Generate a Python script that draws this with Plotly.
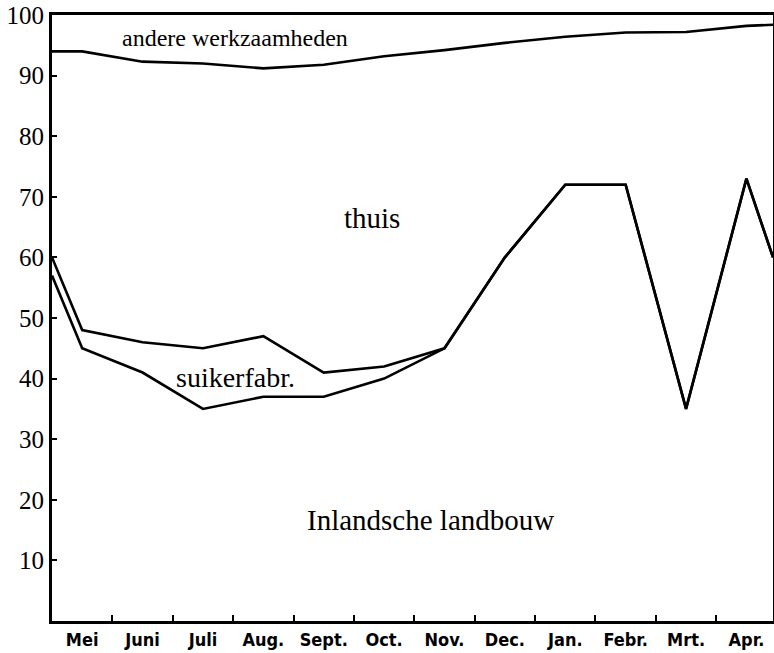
import plotly.graph_objects as go

months = ["Mei", "Juni", "Juli", "Aug.", "Sept.", "Oct.", "Nov.", "Dec.",
          "Jan.", "Febr.", "Mrt.", "Apr."]
# x: start of year (0), month centres (i+0.5), right edge
x_start = 0.0
x_end = 11.94
landbouw = [57, 45, 41, 35, 37, 37, 40, 45, 60, 72, 72, 35, 73, 60]
suiker_top = [60, 48, 46, 45, 47, 41, 42, 45, 60, 72, 72, 35, 73, 60]
thuis_top = [94, 94, 92.3, 92, 91.2, 91.8, 93.2, 94.2, 95.4, 96.4, 97.1, 97.2, 98.2, 98.4]
y_ticks = [10, 20, 30, 40, 50, 60, 70, 80, 90, 100]

xs = [x_start] + [i + 0.5 for i in range(len(months))] + [x_end]

fig = go.Figure()
for ys in (landbouw, suiker_top, thuis_top):
    fig.add_trace(go.Scatter(x=xs, y=ys, mode="lines",
                             line=dict(color="black", width=2.6),
                             hoverinfo="skip", showlegend=False))

serif = "Liberation Serif, Times New Roman, serif"
labels = [
    ("andere werkzaamheden", 3.03, 96.2, 24),
    ("thuis", 5.3, 66.5, 29),
    ("suikerfabr.", 3.04, 40.1, 28),
    ("Inlandsche landbouw", 6.27, 16.7, 29),
]
for txt, lx, ly, fs in labels:
    fig.add_annotation(x=lx, y=ly, text=txt, showarrow=False,
                       font=dict(family=serif, size=fs, color="black"),
                       xanchor="center", yanchor="middle")

fig.update_layout(
    width=774, height=653,
    margin=dict(l=52, r=1, t=15, b=32),
    paper_bgcolor="white", plot_bgcolor="white",
    showlegend=False,
)
fig.update_xaxes(
    range=[0, x_end],
    automargin=False,
    tickvals=[i + 0.5 for i in range(len(months))],
    ticktext=months,
    ticks="",
    ticklabelstandoff=0,
    ticklabeloverflow="allow",
    tickfont=dict(family="Liberation Sans Narrow, DejaVu Sans Condensed, Arial Narrow, sans-serif",
                  size=18, color="black", weight="bold"),
    minor=dict(tickvals=list(range(1, 12)), ticks="inside", ticklen=6,
               tickwidth=2, tickcolor="black", showgrid=False),
    showgrid=False, zeroline=False,
    showline=True, linecolor="black", linewidth=3, mirror=True,
)
fig.update_yaxes(
    range=[0, 100],
    automargin=False,
    tickvals=y_ticks,
    ticktext=[str(v) for v in y_ticks],
    ticks="inside", ticklen=5, tickwidth=2, tickcolor="black",
    ticklabeloverflow="allow",
    tickfont=dict(family=serif, size=25, color="black"),
    showgrid=False, zeroline=False,
    showline=True, linecolor="black", linewidth=3, mirror=True,
)

# remove the default 8px page margin so the 774x653 figure fills the window
fig.write_html(
    "out.html",
    config={"displayModeBar": False},
    post_script="document.documentElement.style.margin='0';"
                "document.body.style.margin='0';"
                "document.body.style.overflow='hidden';",
)
